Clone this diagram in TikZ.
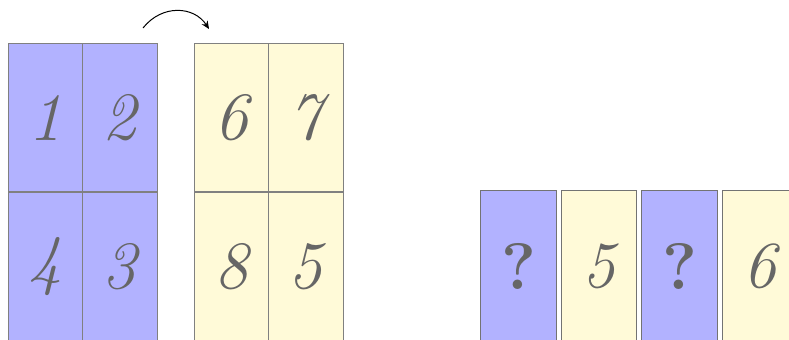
\documentclass[tikz,border=0pt]{standalone}
\usepackage{xcolor}
\usepackage{tikz}
\usetikzlibrary{arrows,arrows.meta,calc}
\usetikzlibrary{positioning}
\definecolor{pageblue}{HTML}{B2B2FF}
\definecolor{pageyellow}{HTML}{FFFAD8}
\definecolor{digitgray}{HTML}{666666}
\tikzset{
  cell/.style={draw=black!50, line width=0.6pt, minimum width=74.5, minimum height=149, inner sep=0pt,
    text=digitgray, font=\fontsize{68}{68}\selectfont\itshape},
  bluecell/.style={cell, fill=pageblue},
  yellowcell/.style={cell, fill=pageyellow},
  strip/.style={draw=black!55, line width=0.8pt, minimum width=76, minimum height=152, inner sep=0pt,
    text=digitgray, font=\fontsize{66}{66}\selectfont\itshape},
}
\begin{document}
\begin{tikzpicture}[x=1bp, y=-1bp]
                \clip (0,0) rectangle (789,339);
                % left sheet
                \node[bluecell] (b1) at (45.25,117.5) {1};
                \node[bluecell] (b2) at (119.75,117.5) {2};
                \node[bluecell] (b4) at (45.25,266.5) {4};
                \node[bluecell] (b3) at (119.75,266.5) {3};
                % right sheet
                \node[yellowcell] (y6) at (231.25,117.5) {6};
                \node[yellowcell] (y7) at (305.75,117.5) {7};
                \node[yellowcell] (y8) at (231.25,266.5) {8};
                \node[yellowcell] (y5) at (305.75,266.5) {5};
                % turn over
                \coordinate (arrL) at (143,28);
                \coordinate (arrR) at (209,29);
                \draw[-{Stealth[length=8pt,width=7pt]}, line width=1pt] (arrL) .. controls (162,4) and (194,6) .. (arrR);
                % strips
                \node[strip, fill=pageblue] (s1) at (518.5,266) {\upshape\bfseries ?};
                \node[strip, fill=pageyellow] (s2) at (599,266) {5};
                \node[strip, fill=pageblue] (s3) at (679.5,266) {\upshape\bfseries ?};
                \node[strip, fill=pageyellow] (s4) at (760,266) {6};
\end{tikzpicture}
\end{document}
